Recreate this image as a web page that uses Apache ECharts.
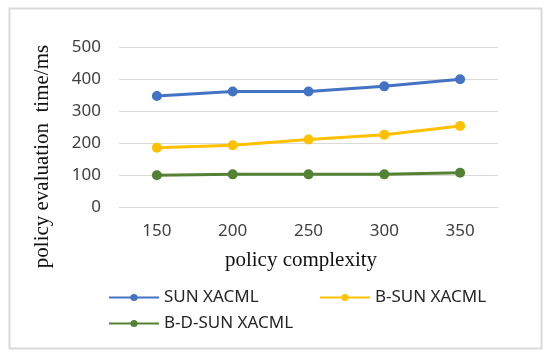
<!DOCTYPE html>
<html>
<head>
<meta charset="utf-8">
<script src="https://cdn.jsdelivr.net/npm/echarts@6/dist/echarts.min.js"></script>
<style>
html,body{margin:0;padding:0;background:#fff;}
#chart{width:550px;height:353px;}
</style>
</head>
<body>
<div id="chart"></div>
<script>
const categories = ['150', '200', '250', '300', '350'];
const sunXacml = [348, 362, 362, 378, 400];
const bSunXacml = [186, 194, 212, 227, 254];
const bdSunXacml = [100, 103, 103, 103, 108];
const seriesNames = ['SUN XACML', 'B-SUN XACML', 'B-D-SUN XACML'];
const colors = ['#4472C4', '#FFC000', '#548235'];

const chart = echarts.init(document.getElementById('chart'));
const legendText = { fontFamily: 'Noto Sans', fontSize: 17, color: '#262626' };
function mkLegend(name, left, top) {
  return {
    data: [name], left: left, top: top, padding: 0,
    itemWidth: 50, itemHeight: 9, textStyle: legendText
  };
}
function mkSeries(i, data) {
  return {
    name: seriesNames[i], type: 'line', data: data,
    symbol: 'circle', symbolSize: 10, color: colors[i],
    lineStyle: { width: 3, color: colors[i] },
    itemStyle: { color: colors[i] }
  };
}
chart.setOption({
  backgroundColor: '#ffffff',
  animation: false,
  grid: { left: 119, right: 52, top: 47.3, bottom: 145.7, containLabel: false },
  xAxis: {
    type: 'category', data: categories, boundaryGap: true,
    axisLine: { show: true, lineStyle: { color: '#d9d9d9', width: 1 } },
    axisTick: { show: false },
    axisLabel: { margin: 15, fontFamily: 'Noto Sans', fontSize: 17, color: '#404040' },
    name: 'policy complexity', nameLocation: 'middle', nameGap: 43,
    nameTextStyle: { fontFamily: 'Liberation Serif', fontSize: 21, color: '#111', padding: [0, 15, 0, 0] }
  },
  yAxis: {
    type: 'value', min: 0, max: 500, interval: 100,
    axisLine: { show: false }, axisTick: { show: false },
    splitLine: { lineStyle: { color: '#d9d9d9', width: 1 } },
    axisLabel: { margin: 18, fontFamily: 'Noto Sans', fontSize: 17, color: '#404040' }
  },
  legend: [
    mkLegend(seriesNames[0], 108, 289),
    mkLegend(seriesNames[1], 319, 289),
    mkLegend(seriesNames[2], 108, 315)
  ],
  graphic: [
    { type: 'rect', left: 7, top: 6, shape: { width: 532, height: 340 },
      style: { fill: 'none', stroke: '#d9d9d9', lineWidth: 2 }, silent: true },
    { type: 'text', x: 42, y: 156.5, rotation: Math.PI / 2,
      style: { text: 'policy evaluation  time/ms', fontFamily: 'Liberation Serif', fontSize: 21,
               fill: '#111', align: 'center', verticalAlign: 'middle' } }
  ],
  series: [mkSeries(0, sunXacml), mkSeries(1, bSunXacml), mkSeries(2, bdSunXacml)]
});
</script>
</body>
</html>
